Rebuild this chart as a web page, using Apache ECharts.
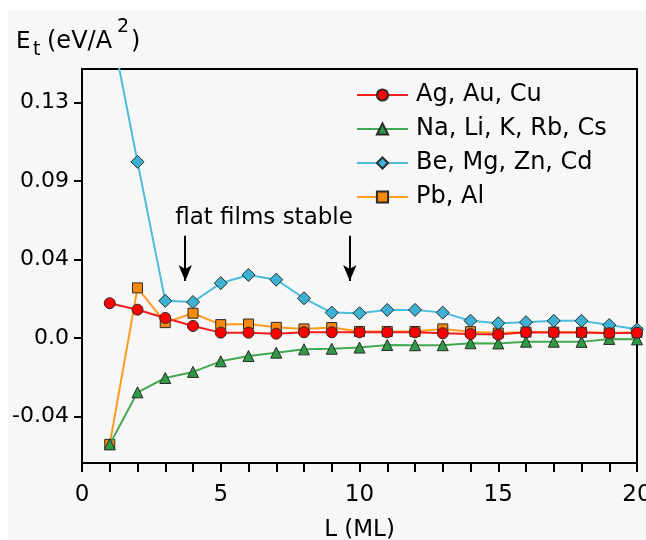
<!DOCTYPE html>
<html lang="en">
<head>
    <meta charset="UTF-8">
    <title>Et vs L</title>
    <script src="https://cdn.jsdelivr.net/npm/echarts@6/dist/echarts.min.js"></script>
    <style>
        html, body { margin: 0; padding: 0; background: #fff; }
        #chart { width: 646px; height: 540px; }
    </style>
</head>
<body>
    <div id="chart"></div>
    <script>
        // 数据 (L = 层数)
        const L = [1, 2, 3, 4, 5, 6, 7, 8, 9, 10, 11, 12, 13, 14, 15, 16, 17, 18, 19, 20];
        const agAuCu = [0.0177, 0.0144, 0.0102, 0.0061, 0.0027, 0.0027, 0.0022, 0.0029, 0.0029, 0.0029,
            0.0029, 0.0029, 0.0024, 0.0020, 0.0017, 0.0029, 0.0028, 0.0028, 0.0024, 0.0027];
        const naLiKRbCs = [-0.0542, -0.0277, -0.0204, -0.0173, -0.0119, -0.0092, -0.0075, -0.0058, -0.0055, -0.0049,
            -0.0036, -0.0037, -0.0037, -0.0027, -0.0028, -0.0019, -0.0019, -0.0020, -0.0005, -0.0007];
        const beMgZnCd = [0.162, 0.0897, 0.0189, 0.0183, 0.0279, 0.0321, 0.0297, 0.0202, 0.0129, 0.0126,
            0.0143, 0.0143, 0.0129, 0.0088, 0.0075, 0.0080, 0.0087, 0.0087, 0.0066, 0.0044];
        const pbAl = [-0.0542, 0.0255, 0.0078, 0.0126, 0.0068, 0.0071, 0.0054, 0.0046, 0.0053, 0.0033,
            0.0033, 0.0033, 0.0046, 0.0032, 0.0025, 0.0030, 0.0030, 0.0029, 0.0027, 0.0028];

        // y 轴刻度 (原图标签)
        const yTickValues = [-0.04, 0, 0.04, 0.08, 0.12];
        const yTickLabels = ['-0.04', '0.0', '0.04', '0.09', '0.13'];

        // 箭头位置
        const arrowX = [3.72, 9.65];

        const FONT = 'DejaVu Sans';
        const BORDER = '#2a2a2a';

        function pairs(ys) {
            return L.map((x, i) => [x, ys[i]]);
        }

        function makeSeries(name, data, symbol, size, lineColor, fillColor, z) {
            return {
                name: name,
                type: 'line',
                data: pairs(data),
                symbol: symbol,
                symbolSize: size,
                z: z,
                lineStyle: { color: lineColor, width: 2 },
                itemStyle: { color: fillColor, borderColor: BORDER, borderWidth: 1 },
                emphasis: { disabled: true }
            };
        }

        let myChart = echarts.init(document.getElementById('chart'));

        let series = [
            makeSeries('Ag, Au, Cu', agAuCu, 'circle', 11, '#f41c1c', '#ff0000', 6),
            makeSeries('Na, Li, K, Rb, Cs', naLiKRbCs, 'triangle', 11, '#43a84f', '#2e9a46', 4),
            makeSeries('Be, Mg, Zn, Cd', beMgZnCd, 'diamond', 13, '#4bbddb', '#3cb1d3', 5),
            makeSeries('Pb, Al', pbAl, 'rect', 10, '#ff9b1f', '#f7890a', 3)
        ];

        // 箭头
        series[0].markLine = {
            silent: true,
            symbol: ['none', 'arrow'],
            symbolSize: [10, 16],
            label: { show: false },
            lineStyle: { color: '#000', width: 2, type: 'solid' },
            data: arrowX.map(x => [{ coord: [x, 0.052] }, { coord: [x, 0.029] }])
        };

        let option = {
            backgroundColor: '#fff',
            animation: false,
            textStyle: { fontFamily: FONT, color: '#000' },
            grid: {
                left: 82, top: 69, right: 9, bottom: 77,
                outerBoundsMode: 'none',
                containLabel: false,
                show: true, borderColor: '#000', borderWidth: 2
            },
            legend: {
                orient: 'vertical',
                left: 351,
                top: 78,
                itemWidth: 51,
                itemHeight: 14,
                itemGap: 10,
                selectedMode: false,
                textStyle: { fontFamily: FONT, fontSize: 24, color: '#000', padding: [0, 0, 0, 3], lineHeight: 24 },
                data: series.map(s => s.name)
            },
            xAxis: {
                type: 'value',
                min: 0, max: 20, interval: 1,
                name: 'L (ML)',
                nameLocation: 'middle',
                nameGap: 56,
                nameTextStyle: { fontSize: 23, color: '#000', fontFamily: FONT },
                axisLine: { onZero: false, lineStyle: { color: '#000', width: 2 } },
                axisTick: { inside: false, length: 9, lineStyle: { color: '#000', width: 2 } },
                axisLabel: {
                    fontSize: 23, color: '#000', margin: 21,
                    formatter: v => (v % 5 === 0 ? String(v) : '')
                },
                splitLine: { show: false }
            },
            yAxis: {
                type: 'value',
                min: -0.0637, max: 0.137,
                axisLine: { show: true, onZero: false, lineStyle: { color: '#000', width: 2 } },
                axisTick: { show: true, inside: false, length: 8, customValues: yTickValues, lineStyle: { color: '#000', width: 2 } },
                axisLabel: {
                    fontSize: 22, color: '#000', margin: 13,
                    customValues: yTickValues,
                    formatter: v => {
                        let i = yTickValues.findIndex(t => Math.abs(t - v) < 1e-6);
                        return i >= 0 ? yTickLabels[i] : '';
                    }
                },
                splitLine: { show: false }
            },
            graphic: [
                { type: 'rect', z: -10, silent: true, shape: { x: 8, y: 10, width: 646, height: 540 }, style: { fill: '#f7f7f7' } },
                { type: 'text', x: 264, y: 218, style: { text: 'flat films stable', font: '23px "DejaVu Sans"', fill: '#000', align: 'center', verticalAlign: 'middle' } },
                { type: 'text', x: 16, y: 42, style: { text: 'E', font: '23px "DejaVu Sans"', fill: '#000', align: 'left', verticalAlign: 'middle' } },
                { type: 'text', x: 33, y: 50, style: { text: 't', font: '19px "DejaVu Sans"', fill: '#000', align: 'left', verticalAlign: 'middle' } },
                { type: 'text', x: 47, y: 42, style: { text: '(eV/A', font: '24px "DejaVu Sans"', fill: '#000', align: 'left', verticalAlign: 'middle' } },
                { type: 'text', x: 117, y: 27, style: { text: '2', font: '19px "DejaVu Sans"', fill: '#000', align: 'left', verticalAlign: 'middle' } },
                { type: 'text', x: 131, y: 42, style: { text: ')', font: '24px "DejaVu Sans"', fill: '#000', align: 'left', verticalAlign: 'middle' } }
            ],
            series: series
        };

        myChart.setOption(option);
    </script>
</body>
</html>
